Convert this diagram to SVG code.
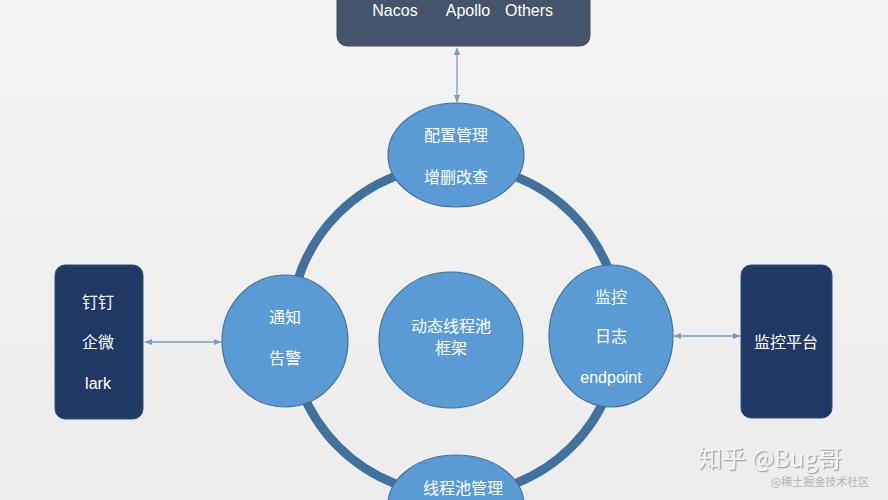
<svg xmlns="http://www.w3.org/2000/svg" width="888" height="500" viewBox="0 0 888 500">
<defs>
<linearGradient id="bg" x1="0" y1="0" x2="0" y2="1">
<stop offset="0" stop-color="#f4f4f4"/>
<stop offset="1" stop-color="#ececec"/>
</linearGradient>
<filter id="sh" x="-10%" y="-20%" width="120%" height="150%">
<feDropShadow dx="1.2" dy="1.2" stdDeviation="0.6" flood-color="#9a9a9a" flood-opacity="0.9"/>
</filter>
<marker id="ah" viewBox="0 0 10 10" refX="9" refY="5" markerWidth="6" markerHeight="6" orient="auto-start-reverse">
<path d="M0,1 L10,5 L0,9 z" fill="#7d9cc0"/>
</marker>
<style>
.circ{fill:#5b9bd5;stroke:#41719c;stroke-width:1.2}
.box{fill:#1f3864;stroke:#2f4f7f;stroke-width:1}
.t{font-family:"Noto Sans CJK SC","Liberation Sans",sans-serif;font-size:16px;fill:#ffffff;text-anchor:middle}
.l{font-family:"Liberation Sans",sans-serif;font-size:16px;fill:#ffffff;text-anchor:middle}
.conn{stroke:#7d9cc0;stroke-width:1.3;fill:none}
.wm{font-family:"Noto Sans CJK SC","Liberation Sans",sans-serif;text-anchor:middle}
</style>
</defs>
<rect width="888" height="500" fill="url(#bg)"/>
<g id="connectors">
<circle cx="455" cy="330" r="165" fill="none" stroke="#41719c" stroke-width="9"/>
<line class="conn" x1="457" y1="48" x2="457" y2="102" marker-start="url(#ah)" marker-end="url(#ah)"/>
<line class="conn" x1="145" y1="342" x2="221" y2="342" marker-start="url(#ah)" marker-end="url(#ah)"/>
<line class="conn" x1="674" y1="336" x2="740" y2="336" marker-start="url(#ah)" marker-end="url(#ah)"/>
</g>
<g id="config-center">
<rect x="337" y="-12" width="253" height="58" rx="10" fill="#44546a" stroke="#3a4a60"/>
<text class="l" x="395" y="16" fill="#e6ebf2">Nacos</text>
<text class="l" x="468" y="16">Apollo</text>
<text class="l" x="529" y="16">Others</text>
</g>
<g id="config-mgmt">
<ellipse class="circ" cx="456" cy="155" rx="68" ry="52"/>
<text class="t" x="456" y="141">配置管理</text>
<text class="t" x="456" y="183">增删改查</text>
</g>
<g id="notify">
<ellipse class="circ" cx="285" cy="341" rx="63" ry="66"/>
<text class="t" x="285" y="323">通知</text>
<text class="t" x="285" y="364">告警</text>
</g>
<g id="core">
<ellipse class="circ" cx="451" cy="340" rx="72" ry="68"/>
<text class="t" x="451" y="332">动态线程池</text>
<text class="t" x="451" y="354">框架</text>
</g>
<g id="monitor">
<ellipse class="circ" cx="611" cy="336" rx="62" ry="71"/>
<text class="t" x="611" y="303">监控</text>
<text class="t" x="611" y="342">日志</text>
<text class="l" x="611" y="383">endpoint</text>
</g>
<g id="pool-mgmt">
<ellipse class="circ" cx="456" cy="505" rx="68" ry="50"/>
<text class="t" x="463" y="494">线程池管理</text>
</g>
<g id="im">
<rect class="box" x="55" y="265" width="88" height="154" rx="10"/>
<text class="t" x="98" y="308">钉钉</text>
<text class="t" x="98" y="348">企微</text>
<text class="l" x="98" y="389">lark</text>
</g>
<g id="platform">
<rect class="box" x="741" y="265" width="91" height="153" rx="10"/>
<text class="t" x="786" y="348">监控平台</text>
</g>
<g id="watermark">
<text class="wm" x="770" y="467" font-size="24" fill="#f4f4f4" filter="url(#sh)">知乎 @Bug哥</text>
<text class="wm" x="820" y="486" font-size="11" fill="#b4b4b4">@稀土掘金技术社区</text>
</g>
</svg>
